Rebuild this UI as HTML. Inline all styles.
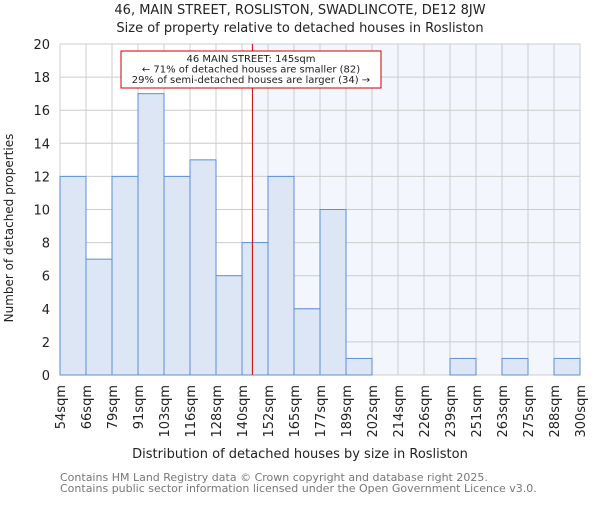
<!DOCTYPE html>
<html><head><meta charset="utf-8"><style>
body{margin:0;background:#fff}
svg{font-family:"DejaVu Sans","Liberation Sans",sans-serif}
</style></head><body>
<svg id="c" width="600" height="500">
<text x="300" y="14" text-anchor="middle" font-size="13" fill="#222">46, MAIN STREET, ROSLISTON, SWADLINCOTE, DE12 8JW</text>
<text x="300" y="32" text-anchor="middle" font-size="13" fill="#222">Size of property relative to detached houses in Rosliston</text>
<g id="plot"></g>
<text x="300" y="458" text-anchor="middle" font-size="13" fill="#222">Distribution of detached houses by size in Rosliston</text>
<text transform="translate(13,228) rotate(-90)" text-anchor="middle" font-size="12" fill="#222">Number of detached properties</text>
<text x="60" y="481" font-size="11" fill="#777">Contains HM Land Registry data © Crown copyright and database right 2025.</text>
<text x="60" y="492" font-size="11" fill="#777">Contains public sector information licensed under the Open Government Licence v3.0.</text>
</svg>
<script>
const categories=["54sqm","66sqm","79sqm","91sqm","103sqm","116sqm","128sqm","140sqm","152sqm","165sqm","177sqm","189sqm","202sqm","214sqm","226sqm","239sqm","251sqm","263sqm","275sqm","288sqm","300sqm"];
const counts=[12,7,12,17,12,13,6,8,12,4,10,1,0,0,0,1,0,1,0,1];
const yTicks=[0,2,4,6,8,10,12,14,16,18,20];
const markerBin=7.4;
const NS="http://www.w3.org/2000/svg";
const X0=60,X1=580,Y0=375,Y1=44,YMAX=20;
const bw=(X1-X0)/counts.length;
const xs=i=>X0+i*bw;
const ys=v=>Y0-(v/YMAX)*(Y0-Y1);
const g=document.getElementById('plot');
function mk(t,a,p){const e=document.createElementNS(NS,t);for(const k in a)e.setAttribute(k,a[k]);(p||g).appendChild(e);return e;}
const mx=xs(markerBin);
const shade=mk('rect',{x:mx,y:Y1,width:X1-mx,height:Y0-Y1,fill:'#f3f6fd'});


for(let i=0;i<=counts.length;i++){const l=mk('line',{x1:xs(i),x2:xs(i),y1:Y1,y2:Y0,stroke:'#ccc'});

}
yTicks.forEach(v=>{const l=mk('line',{x1:X0,x2:X1,y1:ys(v),y2:ys(v),stroke:'#ccc'});


const t=mk('text',{x:X0-10,y:ys(v)+5,'text-anchor':'end','font-size':13,fill:'#222'});t.textContent=v;

});
counts.forEach((c,i)=>{if(c<=0)return;const r=mk('rect',{x:xs(i),y:ys(c),width:bw,height:Y0-ys(c),fill:'#dce6f4',stroke:'#5b8fd6','stroke-width':1});

});
categories.forEach((c,i)=>{const t=mk('text',{transform:`translate(${xs(i)+5},385) rotate(-90)`,'text-anchor':'end','font-size':13,fill:'#222'});t.textContent=c;

});
const ml=mk('line',{x1:mx,x2:mx,y1:Y1,y2:Y0,stroke:'#cc0000','stroke-width':1});


const box=mk('rect',{x:121,y:51,width:260,height:37,fill:'#fff',stroke:'#cc0000'});


["46 MAIN STREET: 145sqm","← 71% of detached houses are smaller (82)","29% of semi-detached houses are larger (34) →"].forEach((s,k)=>{const t=mk('text',{x:251,y:62+k*10.5,'text-anchor':'middle','font-size':10,fill:'#222'});t.textContent=s;

});
</script>
</body></html>
